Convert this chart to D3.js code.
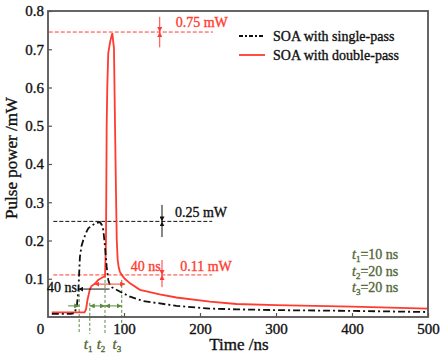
<!DOCTYPE html>
<html><head><meta charset="utf-8">
<script src="https://cdn.jsdelivr.net/npm/d3@7"></script>
<style>
html,body{margin:0;padding:0;background:#fff;}
svg{display:block;}
svg text{font-family:"Liberation Serif","Times New Roman",serif;}
</style></head>
<body>
<svg id="c" width="440" height="358"></svg>
<script>
// ---- data ----
const singleTime = [5,30,35,38,40,42,44,46.4,50,53,62,68.4,71,72.8,75,77.2,79.3,81.6,84,95,108,125,169,213,248,300,400,500];
const singlePower = [0.008,0.008,0.01,0.03,0.071,0.157,0.185,0.201,0.22,0.232,0.245,0.248,0.24,0.227,0.184,0.131,0.097,0.082,0.078,0.066,0.053,0.042,0.029,0.022,0.02,0.018,0.016,0.013];
const doubleTime = [5,30,48,50,52,55,57,62,66,72,75,76.3,76.8,77.2,78,79.3,82,84.6,86.8,88,89.5,90.5,91.7,93,94.7,97,101,108,121,147,169,213,248,300,400,500];
const doublePower = [0.012,0.012,0.012,0.02,0.045,0.072,0.08,0.088,0.097,0.104,0.106,0.2,0.36,0.5,0.6,0.69,0.722,0.742,0.703,0.528,0.319,0.2,0.149,0.13,0.118,0.11,0.1,0.088,0.071,0.059,0.051,0.04,0.034,0.031,0.027,0.022];
const xTicks = [0,100,200,300,400,500];
const yTicks = [0.1,0.2,0.3,0.4,0.5,0.6,0.7,0.8];
const seriesNames = ["SOA with single-pass","SOA with double-pass"];
const levelValues = [0.745,0.25,0.11];
const levelLabels = ["0.75 mW","0.25 mW","0.11 mW"];
const tLines = [41,55,75,97];
const tLabels = ["10 ns","20 ns","20 ns"];

// ---- layout ----
const FONT = "Liberation Serif";
const svg = d3.select("#c");
const x = d3.scaleLinear().domain([0,500]).range([48,428]);
const y = d3.scaleLinear().domain([0,0.8]).range([317,11]);
const RED = "#ff3b30", BLACK = "#111", GREEN = "#5c8a3f", GTEXT = "#55683a", FRAME = "#555";
const HEAVY = 0.35;

// markers
const defs = svg.append("defs");
function marker(id,color){
  defs.append("marker").attr("id",id).attr("viewBox","0 0 10 10").attr("refX",10).attr("refY",5)
    .attr("markerWidth",5).attr("markerHeight",5).attr("orient","auto-start-reverse").attr("markerUnits","userSpaceOnUse")
    .append("path").attr("d","M0,0L10,5L0,10z").attr("fill",color);
}
marker("ar",RED); marker("ab",BLACK); marker("ag",GREEN);

function heavy(sel,color){ return sel.attr("fill",color).attr("stroke",color).attr("stroke-width",HEAVY); }

// axes
const gx = svg.append("g").attr("transform","translate(0,317)")
  .call(d3.axisBottom(x).tickValues(xTicks).tickSize(-4).tickPadding(6).tickFormat(d3.format("d")));
const gy = svg.append("g").attr("transform","translate(48,0)")
  .call(d3.axisLeft(y).tickValues(yTicks).tickSize(-4).tickPadding(4).tickFormat(d3.format(".1f")));
[gx,gy].forEach(g=>{
  g.attr("font-family",FONT);
  g.select(".domain").remove();
  g.selectAll("line").attr("stroke",FRAME).attr("stroke-width",1.2);
  heavy(g.selectAll("text").attr("font-size",15),"#111");
});
gx.selectAll(".tick").filter(d=>d===0).select("text").attr("x",-8);
gx.selectAll(".tick").filter(d=>d===0).select("line").remove();

// annotation lines (under curves)
const ann = svg.append("g");
const lvlColors = [RED,BLACK,RED];
const lvlStart = [1,7,7], lvlEnd=[217,216,216];
levelValues.forEach((v,i)=>{
  ann.append("line").attr("x1",x(lvlStart[i])).attr("x2",x(lvlEnd[i])).attr("y1",y(v)).attr("y2",y(v))
    .attr("stroke",lvlColors[i]).attr("stroke-width",1).attr("stroke-dasharray","4,2");
});
// green vertical lines
const tTop = [0.073,0.037,0.11,0.097];
tLines.forEach((t,i)=>{
  ann.append("line").attr("x1",x(t)).attr("x2",x(t)).attr("y1",y(tTop[i])).attr("y2",y(-0.044))
    .attr("stroke",GREEN).attr("stroke-width",1).attr("stroke-dasharray","3,2");
});

// curves
const line = d3.line().x(d=>x(d[0])).y(d=>y(d[1]));
svg.append("path").datum(doubleTime.map((t,i)=>[t,doublePower[i]]))
  .attr("d",line).attr("fill","none").attr("stroke",RED).attr("stroke-width",1.8);
svg.append("path").datum(singleTime.map((t,i)=>[t,singlePower[i]]))
  .attr("d",line).attr("fill","none").attr("stroke",BLACK).attr("stroke-width",1.8)
  .attr("stroke-dasharray","7,3,2,3");

// frame
svg.append("rect").attr("x",48).attr("y",11).attr("width",380).attr("height",306)
  .attr("fill","none").attr("stroke",FRAME).attr("stroke-width",1.8);

// level arrows
const arrX = [147,150,150];
const arrTop = [0.785,0.293,0.149], arrBot=[0.705,0.209,0.078];
const mk = ["ar","ab","ar"];
levelValues.forEach((v,i)=>{
  ann.append("line").attr("x1",x(arrX[i])).attr("x2",x(arrX[i])).attr("y1",y(arrTop[i])).attr("y2",y(v))
    .attr("stroke",lvlColors[i]).attr("stroke-width",1).attr("marker-end",`url(#${mk[i]})`);
  ann.append("line").attr("x1",x(arrX[i])).attr("x2",x(arrX[i])).attr("y1",y(arrBot[i])).attr("y2",y(v))
    .attr("stroke",lvlColors[i]).attr("stroke-width",1).attr("marker-end",`url(#${mk[i]})`);
});
const lblX = [168,167,174], lblY=[0.757,0.262,0.12];
levelLabels.forEach((s,i)=>{
  heavy(svg.append("text").attr("x",x(lblX[i])).attr("y",y(lblY[i])).text(s)
    .attr("font-family",FONT).attr("font-size",14),lvlColors[i]);
});
// width arrows
svg.append("line").attr("x1",x(61)).attr("x2",x(101.5)).attr("y1",y(0.086)).attr("y2",y(0.086))
  .attr("stroke",RED).attr("stroke-width",1).attr("marker-start","url(#ar)").attr("marker-end","url(#ar)");
heavy(svg.append("text").attr("x",x(109)).attr("y",y(0.12)).text("40 ns").attr("font-family",FONT).attr("font-size",14),RED);
svg.append("line").attr("x1",x(40)).attr("x2",x(81)).attr("y1",y(0.073)).attr("y2",y(0.073))
  .attr("stroke",BLACK).attr("stroke-width",1).attr("marker-start","url(#ab)");
heavy(svg.append("text").attr("x",x(38)).attr("y",y(0.065)).attr("text-anchor","end").text("40 ns")
  .attr("font-family",FONT).attr("font-size",14),BLACK);

// green arrows
const gy0 = y(0.029);
svg.append("line").attr("x1",x(26.5)).attr("x2",x(tLines[0])).attr("y1",gy0).attr("y2",gy0)
  .attr("stroke",GREEN).attr("stroke-width",1).attr("marker-end","url(#ag)");
[[1,2],[2,3]].forEach(([a,b])=>{
  svg.append("line").attr("x1",x(tLines[a])).attr("x2",x(tLines[b])).attr("y1",gy0).attr("y2",gy0)
    .attr("stroke",GREEN).attr("stroke-width",1).attr("marker-start","url(#ag)").attr("marker-end","url(#ag)");
});
// t labels under axis
const tLabX = [47,64,85];
tLabX.forEach((t,i)=>{
  const tx = heavy(svg.append("text").attr("x",x(t)).attr("y",349).attr("font-family",FONT).attr("font-size",15),GTEXT);
  tx.append("tspan").attr("font-style","italic").text("t");
  tx.append("tspan").attr("font-size",9).attr("dy",3).text(String(i+1));
});
// t description block
tLabels.forEach((s,i)=>{
  const tx = heavy(svg.append("text").attr("x",352).attr("y",259+i*16.5).attr("font-family",FONT).attr("font-size",14),GTEXT);
  tx.append("tspan").attr("font-style","italic").text("t");
  tx.append("tspan").attr("font-size",9).attr("dy",3).text(String(i+1));
  tx.append("tspan").attr("dy",-3).text("="+s);
});

// legend
const lg = svg.append("g");
[[BLACK,"7,3,2,3"],[RED,null]].forEach(([c,dash],i)=>{
  const yy = 36+i*19;
  const l = lg.append("line").attr("x1",239).attr("x2",265).attr("y1",yy).attr("y2",yy)
    .attr("stroke",c).attr("stroke-width",1.8);
  if(dash) l.attr("stroke-dasharray","4,2,2,2");
  heavy(lg.append("text").attr("x",273).attr("y",yy+4.5).text(seriesNames[i]).attr("font-family",FONT).attr("font-size",14),"#111");
});

// axis titles
heavy(svg.append("text").attr("x",239).attr("y",350).attr("text-anchor","middle").text("Time /ns")
  .attr("font-family",FONT).attr("font-size",17),"#111");
heavy(svg.append("text").attr("transform","translate(17,158) rotate(-90)").attr("text-anchor","middle")
  .text("Pulse power /mW").attr("font-family",FONT).attr("font-size",17),"#111");
</script>
</body></html>
